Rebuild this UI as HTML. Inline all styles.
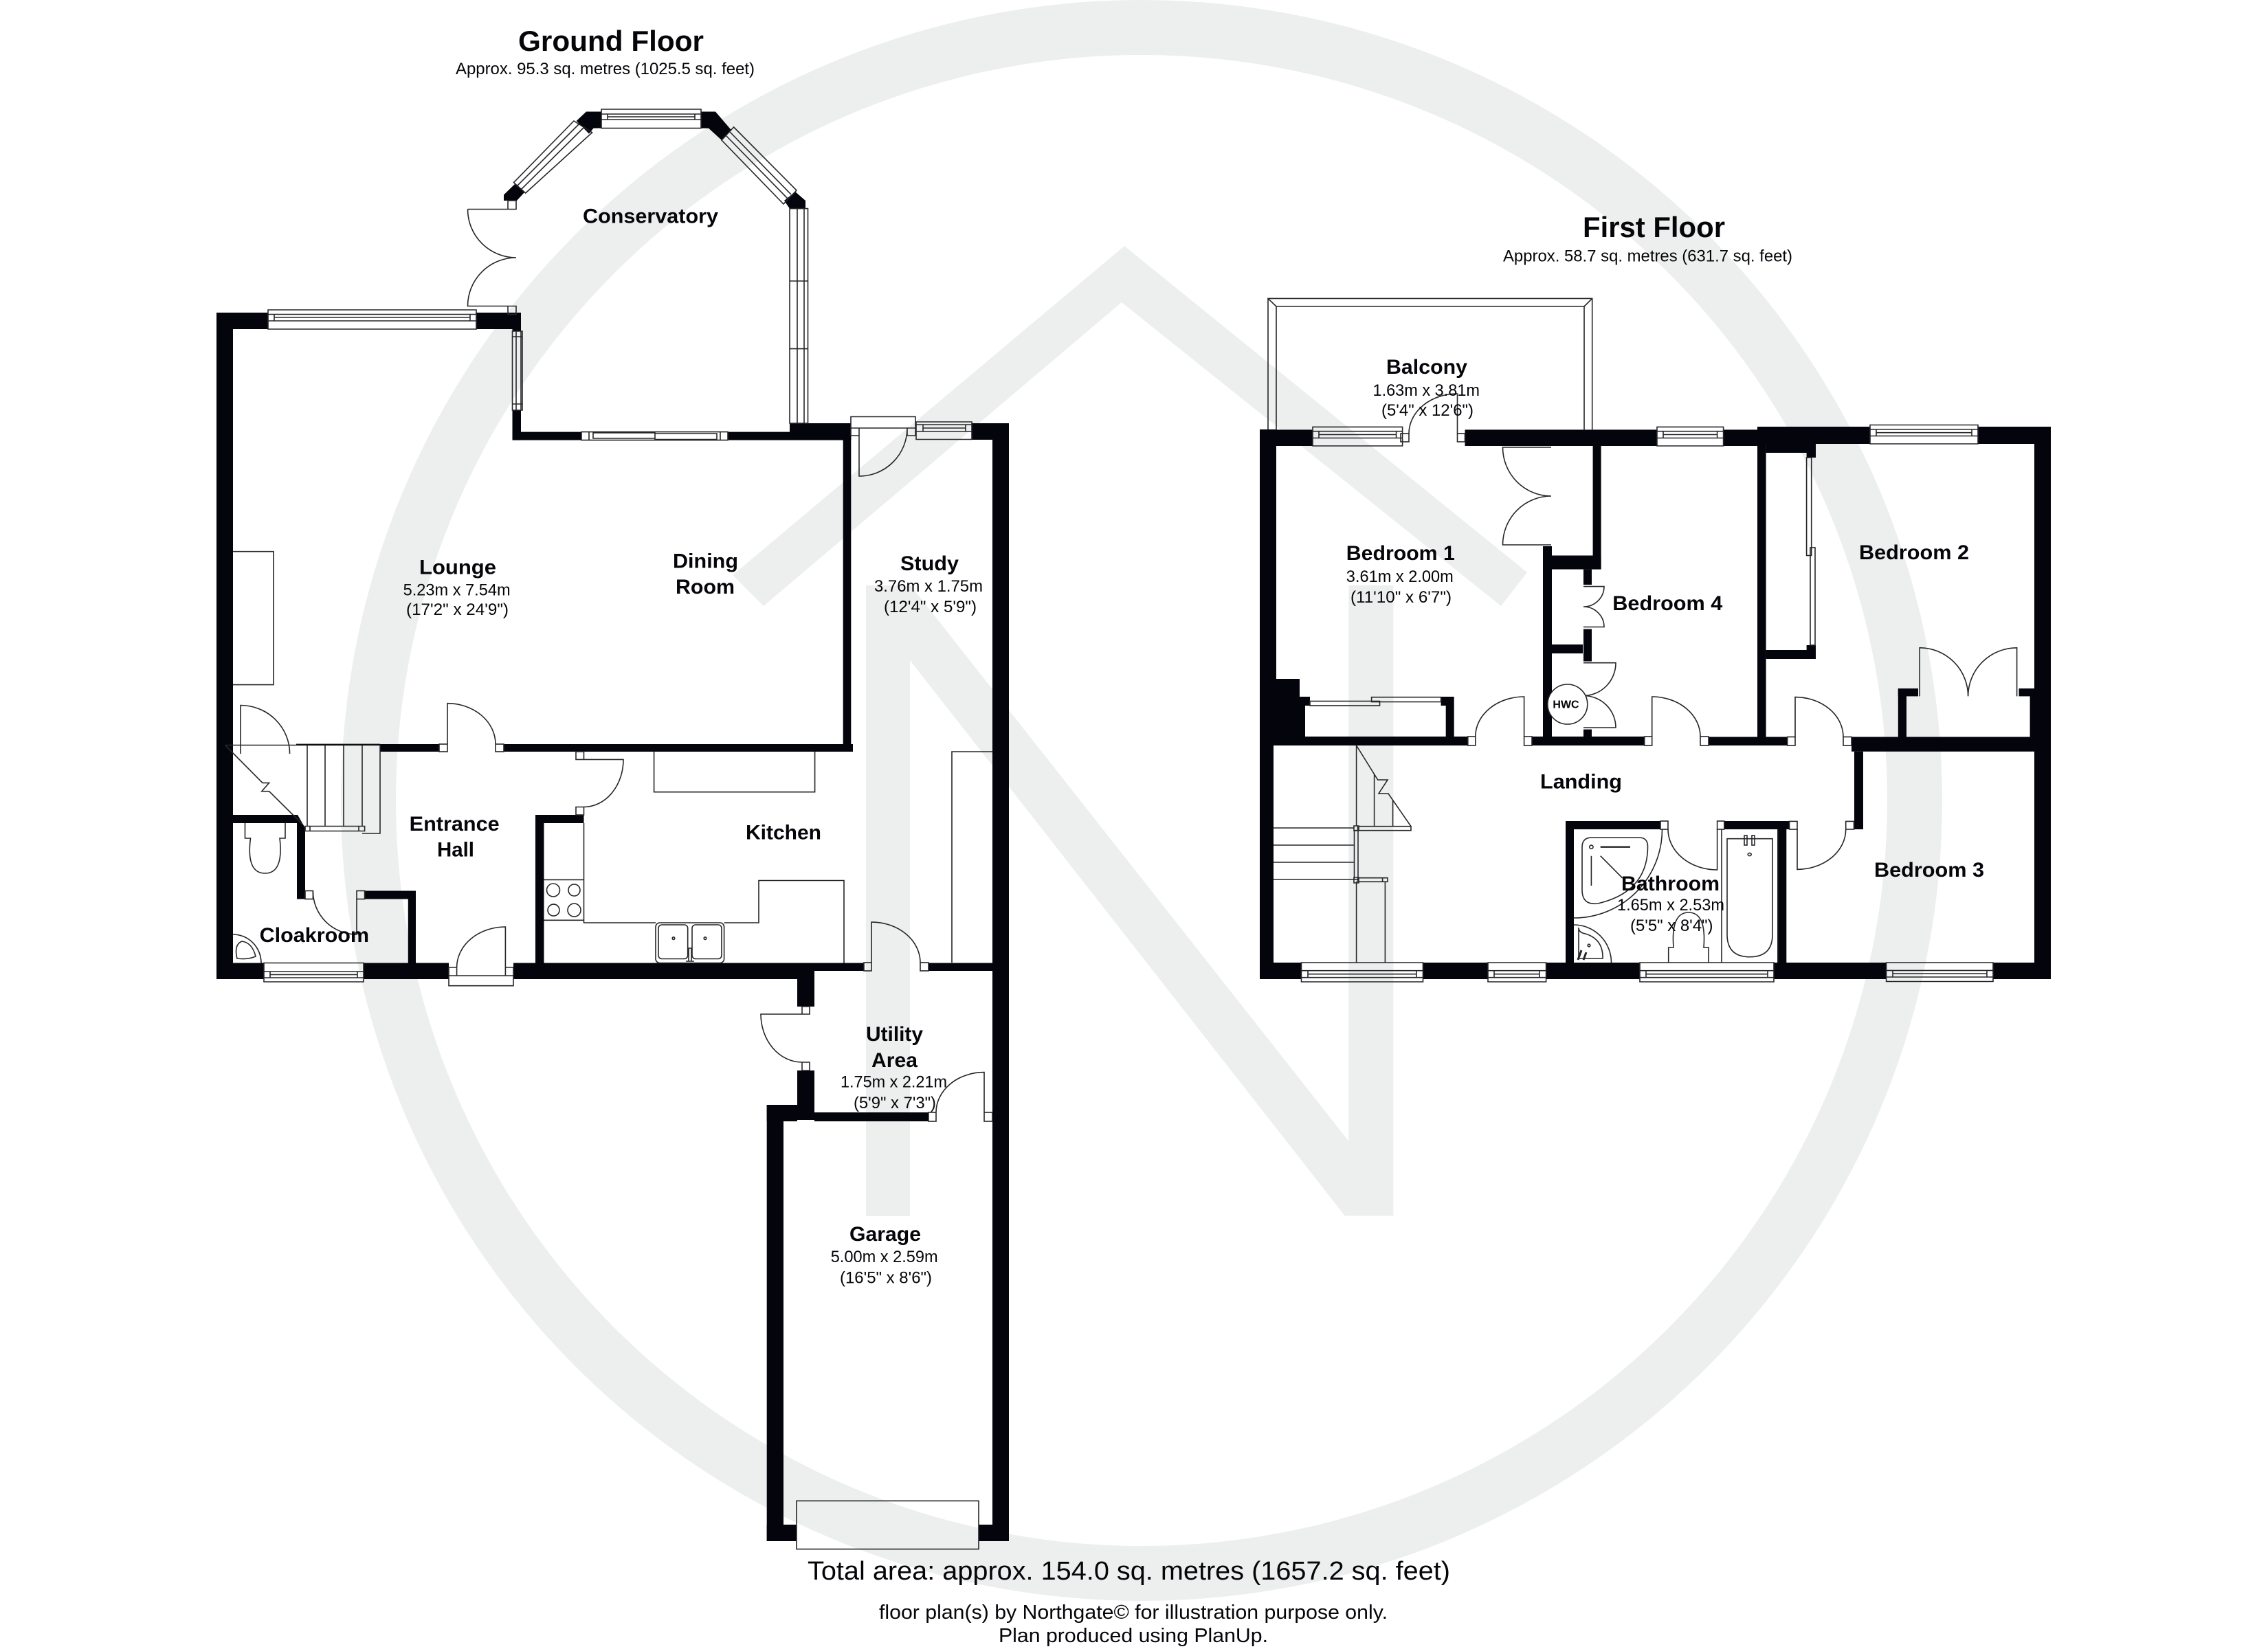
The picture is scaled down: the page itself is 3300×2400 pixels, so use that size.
<!DOCTYPE html>
<html><head><meta charset="utf-8"><style>
html,body{margin:0;padding:0;background:#fff}
svg{display:block}
text{font-family:"Liberation Sans",sans-serif;fill:#05050a;stroke:none}
.t{font-weight:bold;font-size:42px}
.b{font-weight:bold;font-size:30px}
.d{font-size:24px}
.f{font-size:29px}
</style></head><body>
<svg xmlns="http://www.w3.org/2000/svg" width="3300" height="2400" viewBox="0 0 3300 2400">
<rect width="3300" height="2400" fill="#fff"/>
<!-- watermark -->
<g fill="#edeeee">
<circle cx="1661" cy="1165" r="1125" fill="none" stroke="#edeeee" stroke-width="80"/>
<polygon points="1066,837 1636,358 2222,833 2184,882 1632,440 1111,882"/>
<polygon points="1260,852 1325,852 1962.3,1660.7 1962.3,852 2027.3,852 2027.3,1769.5 1956.7,1769.5 1324,961 1324,1770 1260,1770"/>
</g>
<!-- walls -->
<g fill="#04040c">
<rect x="315" y="455" width="24" height="970"/><rect x="315" y="455" width="75" height="24"/>
<rect x="693" y="455" width="65" height="24"/><rect x="745.5" y="479" width="12.5" height="3"/>
<rect x="745.5" y="597" width="12.5" height="43.6"/><rect x="745.5" y="628.6" width="100.5" height="12"/>
<rect x="1059" y="628.6" width="90" height="12"/><rect x="1149" y="616" width="89.5" height="24.6"/>
<rect x="1226.7" y="640" width="11.6" height="454"/><rect x="1414" y="616" width="54" height="24"/>
<rect x="1444" y="616" width="24" height="1627"/>
<rect x="553" y="1083" width="86" height="11"/><rect x="733" y="1083" width="508" height="11"/><rect x="431" y="1082.6" width="122" height="2.4"/>
<rect x="315" y="1401.5" width="69" height="23.5"/><rect x="529" y="1401.5" width="124" height="23.5"/>
<rect x="747" y="1401.5" width="438" height="23.5"/><rect x="1185" y="1401.5" width="72" height="11.5"/><rect x="1351" y="1401.5" width="93" height="11.5"/>
<rect x="1160" y="1425" width="25" height="40"/><rect x="1160" y="1558" width="25" height="72"/>
<rect x="1115.7" y="1608" width="44.3" height="24"/><rect x="1115.7" y="1608" width="24.3" height="635"/>
<rect x="1115.7" y="2219" width="43.3" height="24"/><rect x="1424" y="2219" width="44" height="24"/>
<rect x="1185" y="1619" width="166" height="13"/>
<rect x="779" y="1186" width="70.5" height="12"/><rect x="779" y="1186" width="12.5" height="215.5"/>
<polygon points="339,1186 433,1186 444,1205 444,1308.5 432,1308.5 432,1198 339,1198"/>
<rect x="530.6" y="1296.5" width="74.4" height="12"/><rect x="593.8" y="1296.5" width="11.2" height="105"/>
<!-- conservatory corners -->
<polygon points="853,162.5 875,162.5 875,186.5 863.5,186.6 857,194.6 838.7,176"/>
<polygon points="1020,162.5 1041,162.5 1064.4,189.7 1050,204 1031,186.6 1020,186.6"/>
<polygon points="749,268 763,280 752,292 733,292 733,283.5"/>
<polygon points="1157,279 1172,292 1172,303.6 1149,303.6 1141,292"/>
<!-- first floor -->
<rect x="1833" y="625.4" width="77" height="23.6"/><rect x="2131.5" y="625.4" width="279.5" height="23.6"/>
<rect x="2507.6" y="625.4" width="50" height="23.6"/><rect x="2557" y="621" width="164.4" height="25"/><rect x="2878" y="621" width="106" height="25"/>
<rect x="1833" y="625" width="24" height="447"/><rect x="1833" y="1072" width="20" height="353"/>
<rect x="2960" y="621" width="24" height="804"/>
<rect x="1833" y="1401" width="60.5" height="24"/><rect x="2070.5" y="1401" width="94.5" height="24"/><rect x="2249.6" y="1401" width="136.4" height="24"/>
<rect x="2581" y="1401" width="163.6" height="24"/><rect x="2900" y="1401" width="84" height="24"/>
<polygon points="1857,988 1891,988 1891,1014 1906,1014 1906,1027 1899,1027 1899,1072 1857,1072"/>
<rect x="2096.6" y="1014" width="19.1" height="13"/><rect x="2103.7" y="1027" width="12" height="45"/>
<rect x="1852" y="1072" width="283.8" height="13"/><rect x="2229" y="1072" width="163.7" height="13"/><rect x="2486" y="1072.5" width="114.7" height="12.5"/>
<rect x="2694" y="1072.5" width="266" height="21.3"/>
<rect x="2317.6" y="649" width="12" height="179.6"/><rect x="2245" y="808.5" width="84.6" height="20.1"/><rect x="2245" y="795" width="13" height="279"/>
<rect x="2258" y="938" width="45" height="13"/><rect x="2304" y="828.6" width="12" height="22.4"/><rect x="2304" y="915.6" width="12" height="46.9"/><rect x="2304" y="1061.6" width="12" height="12.4"/>
<rect x="2557" y="621" width="12.6" height="452"/><rect x="2569.6" y="646" width="72.4" height="13"/><rect x="2628.6" y="659" width="13.4" height="7"/>
<rect x="2569.6" y="946" width="72.4" height="13"/><rect x="2628.6" y="939" width="13.4" height="7"/>
<rect x="2761.8" y="1002" width="12.2" height="70.5"/><rect x="2761.8" y="1002" width="29.2" height="11.4"/><rect x="2937.5" y="1002" width="22.5" height="11.4"/><rect x="2953.6" y="1013" width="6.4" height="59.5"/>
<rect x="2698" y="1093.8" width="13" height="113.2"/>
<rect x="2278" y="1195" width="12" height="206"/><rect x="2278" y="1195" width="138" height="12"/><rect x="2508.8" y="1195" width="95.2" height="12"/><rect x="2587.5" y="1207" width="11.8" height="194"/>
</g>
<!-- line work -->
<g fill="none" stroke="#26262a" stroke-width="1.6">
<!-- ground windows -->
<path d="M390 451H693V479H390ZM390 457.5H693M390 467H693M399 457.5V467M684 457.5V467M399 462H684"/>
<path d="M875 159H1020V186.6H875ZM875 166H1020M875 174H1020M884 166V174M1011 166V174M884 170H1011"/>
<path d="M384 1401.5H529V1429H384ZM384 1414H529M384 1423H529M393 1414V1423M520 1414V1423M393 1418.5H520"/>
<path d="M1333 614H1414V639.5H1333ZM1333 618H1414M1333 628H1414M1343 618V628M1405 618V628M1343 623H1405"/>
<path d="M835 176L861.6 192.9L764.7 281L747.5 265.6ZM842 181L752 271M849 186L758 276"/>
<path d="M1067.6 185L1159 277L1140 297L1050 204ZM1062 192L1151 283M1056 197L1146 289"/>
<path d="M1149 303.6H1175.5V616H1149ZM1160 303.6V616M1170 303.6V616M1149 409H1175.5M1149 507.6H1175.5"/>
<path d="M745.5 482H760V597H745.5ZM751 482V597M758 482V597M745.5 490H760M745.5 588H760"/>
<path d="M846 628.6H1059V640.6H846ZM857 628.6V640.6M1048 628.6V640.6M863 630H953V638H863ZM953 631H1043V639.5H953Z"/>
<!-- ground doors -->
<path d="M739 292V304.5H751V292ZM680.5 304.5H739M680.5 304.5A70.5 70.5 0 0 0 751 375A70.5 70.5 0 0 0 680.5 445.5H739M739 445.5H751V457.5H739Z"/>
<path d="M350 1097V1026.5A71.6 70.5 0 0 1 421.6 1097"/>
<rect x="639" y="1083" width="12" height="11"/><rect x="721" y="1083" width="12" height="11"/>
<path d="M651 1083V1023.7A70 59.3 0 0 1 721 1083"/>
<path d="M838 1094V1105.4H849.5V1094ZM849.5 1105.4H907A57.5 69 0 0 1 849.5 1174.5M838 1174.5H849.5V1186H838Z"/>
<rect x="444" y="1296.5" width="11.4" height="12"/><rect x="519" y="1296.5" width="11.6" height="12"/>
<path d="M455.4 1297A63.6 63 0 0 0 519 1360V1308.5"/>
<path d="M653 1408H664.6V1420H653ZM735.4 1408H747V1420H735.4ZM653 1420H747V1434.7H653ZM735.4 1408V1349A70.8 59 0 0 0 664.6 1408"/>
<path d="M1238 606.5H1332V623H1238ZM1238 623H1250V634H1238ZM1320 623H1332V634H1320ZM1250 623V693A70 70 0 0 0 1320 623"/>
<rect x="1257" y="1401" width="11" height="12"/><rect x="1339" y="1401" width="12" height="12"/>
<path d="M1268 1401V1342A71 59 0 0 1 1339 1401"/>
<path d="M1167 1465H1178V1476H1167ZM1167 1546H1178V1558H1167ZM1167 1476H1107A60 70 0 0 0 1167 1546"/>
<rect x="1351" y="1619" width="11" height="13"/><rect x="1432" y="1619" width="12" height="13"/>
<path d="M1362 1619A70 58.4 0 0 1 1432 1560.6V1619"/>
<rect x="1159" y="2184.4" width="265" height="70.2"/>
<!-- fireplace + stairs -->
<path d="M339 802.7H398V996.6H339"/>
<path d="M328 1084.5H553V1213H527M328 1085L382 1139.4H391.6L380.8 1151.7H391.6L439.4 1199M447 1085V1202.5M473 1085V1202.5M500 1085V1202.5M527 1085V1202.5"/>
<path d="M444 1202.5H530.6V1209.5H444ZM444 1202.5H451V1209.5H444ZM522 1202.5H530.6V1209.5H522Z"/>
<!-- kitchen -->
<path d="M951.6 1094V1152.7H1185.6V1094"/>
<path d="M849.5 1198V1343H954M1053.6 1343H1104V1281.5H1228V1401.5M791.5 1280.4H849.5M791.5 1339.3H849.5"/>
<circle cx="805" cy="1295.5" r="9.5"/><circle cx="835.5" cy="1295.5" r="8.5"/><circle cx="805.5" cy="1324.6" r="8.5"/><circle cx="835.5" cy="1324.6" r="9.5"/>
<rect x="954" y="1343" width="99.6" height="58.5" rx="6"/><rect x="958" y="1346" width="42.7" height="49.5" rx="5"/><rect x="1007" y="1346" width="43" height="49.5" rx="5"/>
<circle cx="980" cy="1365.6" r="1.8"/><circle cx="1026" cy="1365.6" r="1.8"/><path d="M1002 1380H1006V1399H1002ZM998 1399H1010"/>
<path d="M1385 1401V1094H1444"/>
<!-- cloakroom -->
<path d="M356.5 1198V1220H364.5Q358 1271 385.7 1271Q413 1271 407 1220H415V1198"/>
<path d="M339 1360A41 41.5 0 0 1 380 1401.5M345 1395Q340 1375 352 1370Q367 1372 372 1392Q360 1397 345 1395Z"/>
<!-- first floor windows -->
<path d="M1910 621.4H2040.6V649H1910ZM1910 627.7H2040.6M1910 637.5H2040.6M1919 627.7V637.5M2031.6 627.7V637.5M1919 632.5H2031.6"/>
<path d="M2411 621.4H2507.6V649H2411ZM2411 627.7H2507.6M2411 637.5H2507.6M2420 627.7V637.5M2498.6 627.7V637.5M2420 632.5H2498.6"/>
<path d="M2721 618.5H2878V646H2721ZM2721 625H2878M2721 634.5H2878M2730 625V634.5M2869 625V634.5M2730 629.7H2869"/>
<path d="M2744.6 1401H2900V1428.5H2744.6ZM2744.6 1412.4H2900M2744.6 1422H2900M2754 1412.4V1422M2891 1412.4V1422M2754 1417H2891"/>
<path d="M1893.5 1401H2070.5V1429H1893.5ZM1893.5 1412.7H2070.5M1893.5 1422.7H2070.5M1903 1412.7V1422.7M2061 1412.7V1422.7M1903 1417.7H2061"/>
<path d="M2165 1401H2249.6V1429H2165ZM2165 1412.7H2249.6M2165 1422.7H2249.6M2174 1412.7V1422.7M2240 1412.7V1422.7M2174 1417.7H2240"/>
<path d="M2386 1401H2581V1429H2386ZM2386 1412.7H2581M2386 1422.7H2581M2395 1412.7V1422.7M2572 1412.7V1422.7M2395 1417.7H2572"/>
<!-- balcony -->
<path d="M1845 625.4V434.4H2316.7V625.4M1857 625.4V446H2305V625.4M1845 434.4L1857 446M2316.7 434.4L2305 446"/>
<!-- first floor doors -->
<rect x="2038" y="631" width="12" height="12"/><rect x="2120.5" y="631" width="11" height="12"/>
<path d="M2120.5 631V573A70.5 58 0 0 0 2050 631"/>
<path d="M2257 651H2186.5A70.5 71 0 0 0 2257 722A70.5 71 0 0 0 2186.5 793H2257"/>
<rect x="2135.8" y="1072" width="11" height="13"/><rect x="2217.6" y="1072" width="11.4" height="13"/>
<path d="M2217.6 1072V1014A70.8 58 0 0 0 2146.8 1072"/>
<rect x="2392.7" y="1072" width="11" height="13"/><rect x="2474" y="1072" width="12" height="13"/>
<path d="M2403.7 1072V1014A70.3 58 0 0 1 2474 1072"/>
<path d="M2304 853.6H2334A30 29.4 0 0 1 2304 883A30 29.5 0 0 1 2334 912.5H2304"/>
<path d="M2304 964.7H2351A47 47.8 0 0 1 2304 1012.5A47 46.5 0 0 1 2351 1059H2304"/>
<ellipse cx="2280.8" cy="1025" rx="29" ry="29" fill="#fff"/>
<rect x="2600.7" y="1072.5" width="11.3" height="12.5"/><rect x="2682" y="1072.5" width="12" height="12.5"/>
<path d="M2612 1072.5V1014.6A70 58 0 0 1 2682 1072.5"/>
<rect x="2685.7" y="1195.4" width="11.8" height="11.6"/><rect x="2603.6" y="1195.4" width="11.4" height="11.6"/>
<path d="M2685.7 1207A70.7 58.4 0 0 1 2615 1265.4V1207"/>
<path d="M2793.2 1013.4V942.8A70.4 70.6 0 0 1 2863.6 1013.4M2934.6 1013.4V942.8A71 70.6 0 0 0 2863.6 1013.4"/>
<rect x="2416" y="1195" width="11" height="12"/><rect x="2498.6" y="1195" width="10.2" height="12"/>
<path d="M2418.5 1207.3A128.5 128.7 0 0 1 2290 1336"/>
<path d="M2427 1207A71.6 59 0 0 0 2498.6 1266V1207"/>
<!-- wardrobes -->
<rect x="1906" y="1020.5" width="101.5" height="6.5"/><rect x="1995.6" y="1014.7" width="101" height="6.8"/>
<rect x="2628.6" y="666" width="7.1" height="142.5"/><rect x="2634" y="797" width="7" height="142"/>
<!-- first floor stairs -->
<path d="M1973.6 1085V1201.7M1973.6 1085L2004.7 1135H2019L2006 1155H2020L2053 1202.7M1999.6 1127V1202.7M2026.6 1165V1202.7"/>
<path d="M1975.6 1202.7H2053V1208.7H1975.6ZM1853 1205H1970.5M1853 1230H1970.5M1853 1255H1970.5M1853 1280H1970.5M1970.5 1208.7H1976V1280H1970.5ZM1975.6 1277.7H2019V1283.3H1975.6ZM2011.6 1277.7H2019V1283.3H2011.6ZM1973.6 1283V1401M2015.4 1283V1401"/>
<path d="M1970 1202H1977V1209H1970ZM1970 1277H1977V1285H1970Z"/>
<!-- bathroom -->
<path d="M2302 1233Q2302 1219 2316 1219H2385Q2397.5 1219 2397.5 1232Q2397.5 1298 2325 1315Q2302 1318 2302 1295Z"/>
<path d="M2315.4 1245.7V1289M2328.7 1245.7L2360.8 1278"/><circle cx="2315.4" cy="1232.7" r="2.6"/>
<path d="M2328.7 1232.7H2372" stroke-width="2.4"/>
<path d="M2290 1346A54.5 55 0 0 1 2344.5 1401"/>
<path d="M2297 1350Q2297 1362 2297 1395H2332Q2333 1365 2303 1358Q2297 1356 2297 1350Z"/>
<circle cx="2312" cy="1376" r="1.8"/><path d="M2296 1397L2301 1383M2304 1397L2308 1386" stroke-width="3"/>
<path d="M2427.7 1401V1379H2435Q2431 1328 2457 1328Q2483 1328 2479 1379H2486V1401"/>
<path d="M2505 1207V1401M2586.8 1207V1401"/>
<path d="M2513 1220.7H2579V1360Q2579 1392.7 2546 1392.7Q2513 1392.7 2513 1360Z"/>
<rect x="2538" y="1216" width="4" height="14"/><rect x="2549" y="1216" width="4" height="14"/><ellipse cx="2545.7" cy="1243.6" rx="2.5" ry="2"/>
</g>
<!-- labels -->
<text class="t" x="754" y="74" textLength="270" lengthAdjust="spacingAndGlyphs">Ground Floor</text>
<text class="d" x="663" y="108" textLength="435" lengthAdjust="spacingAndGlyphs">Approx. 95.3 sq. metres (1025.5 sq. feet)</text>
<text class="b" x="848" y="324.5" textLength="197" lengthAdjust="spacingAndGlyphs">Conservatory</text>
<text class="b" x="610" y="835.5" textLength="112" lengthAdjust="spacingAndGlyphs">Lounge</text>
<text class="d" x="586.6" y="866.7" textLength="156" lengthAdjust="spacingAndGlyphs">5.23m x 7.54m</text>
<text class="d" x="591" y="895" textLength="149" lengthAdjust="spacingAndGlyphs">(17'2" x 24'9")</text>
<text class="b" x="979" y="826.7" textLength="95" lengthAdjust="spacingAndGlyphs">Dining</text>
<text class="b" x="983" y="864" textLength="86" lengthAdjust="spacingAndGlyphs">Room</text>
<text class="b" x="1310" y="830" textLength="85" lengthAdjust="spacingAndGlyphs">Study</text>
<text class="d" x="1272" y="861" textLength="158" lengthAdjust="spacingAndGlyphs">3.76m x 1.75m</text>
<text class="d" x="1286" y="891" textLength="135" lengthAdjust="spacingAndGlyphs">(12'4" x 5'9")</text>
<text class="b" x="595.7" y="1209" textLength="131" lengthAdjust="spacingAndGlyphs">Entrance</text>
<text class="b" x="636" y="1246.4" textLength="54" lengthAdjust="spacingAndGlyphs">Hall</text>
<text class="b" x="1085" y="1221.5" textLength="110" lengthAdjust="spacingAndGlyphs">Kitchen</text>
<text class="b" x="377.6" y="1371" textLength="159.5" lengthAdjust="spacingAndGlyphs">Cloakroom</text>
<text class="b" x="1260" y="1515" textLength="83" lengthAdjust="spacingAndGlyphs">Utility</text>
<text class="b" x="1268" y="1553" textLength="67" lengthAdjust="spacingAndGlyphs">Area</text>
<text class="d" x="1223" y="1582.6" textLength="155" lengthAdjust="spacingAndGlyphs">1.75m x 2.21m</text>
<text class="d" x="1242" y="1613" textLength="120" lengthAdjust="spacingAndGlyphs">(5'9" x 7'3")</text>
<text class="b" x="1236" y="1806" textLength="104" lengthAdjust="spacingAndGlyphs">Garage</text>
<text class="d" x="1208.7" y="1837" textLength="156" lengthAdjust="spacingAndGlyphs">5.00m x 2.59m</text>
<text class="d" x="1222" y="1867.5" textLength="134" lengthAdjust="spacingAndGlyphs">(16'5" x 8'6")</text>
<text class="t" x="2303" y="345" textLength="207" lengthAdjust="spacingAndGlyphs">First Floor</text>
<text class="d" x="2187" y="380.7" textLength="421" lengthAdjust="spacingAndGlyphs">Approx. 58.7 sq. metres (631.7 sq. feet)</text>
<text class="b" x="2017" y="544" textLength="118" lengthAdjust="spacingAndGlyphs">Balcony</text>
<text class="d" x="1997.5" y="576" textLength="155.5" lengthAdjust="spacingAndGlyphs">1.63m x 3.81m</text>
<text class="d" x="2010" y="605" textLength="134" lengthAdjust="spacingAndGlyphs">(5'4" x 12'6")</text>
<text class="b" x="1958.8" y="815" textLength="158" lengthAdjust="spacingAndGlyphs">Bedroom 1</text>
<text class="d" x="1958.8" y="847" textLength="156" lengthAdjust="spacingAndGlyphs">3.61m x 2.00m</text>
<text class="d" x="1965" y="876.8" textLength="147" lengthAdjust="spacingAndGlyphs">(11'10" x 6'7")</text>
<text class="b" x="2346.3" y="888" textLength="160" lengthAdjust="spacingAndGlyphs">Bedroom 4</text>
<text class="b" x="2705" y="814" textLength="160" lengthAdjust="spacingAndGlyphs">Bedroom 2</text>
<text class="b" x="2727" y="1276" textLength="160" lengthAdjust="spacingAndGlyphs">Bedroom 3</text>
<text class="b" x="2241" y="1147.7" textLength="119" lengthAdjust="spacingAndGlyphs">Landing</text>
<text class="b" x="2359" y="1296" textLength="143" lengthAdjust="spacingAndGlyphs">Bathroom</text>
<text class="d" x="2353" y="1325" textLength="156" lengthAdjust="spacingAndGlyphs">1.65m x 2.53m</text>
<text class="d" x="2372" y="1355" textLength="120.5" lengthAdjust="spacingAndGlyphs">(5'5" x 8'4")</text>
<text x="2278.5" y="1030.5" text-anchor="middle" font-size="16" font-weight="bold">HWC</text>
<text x="1175" y="2299" font-size="38" textLength="935" lengthAdjust="spacingAndGlyphs">Total area: approx. 154.0 sq. metres (1657.2 sq. feet)</text>
<text class="f" x="1279" y="2356" textLength="740" lengthAdjust="spacingAndGlyphs">floor plan(s) by Northgate© for illustration purpose only.</text>
<text class="f" x="1453" y="2390" textLength="392" lengthAdjust="spacingAndGlyphs">Plan produced using PlanUp.</text>
</svg>
</body></html>
